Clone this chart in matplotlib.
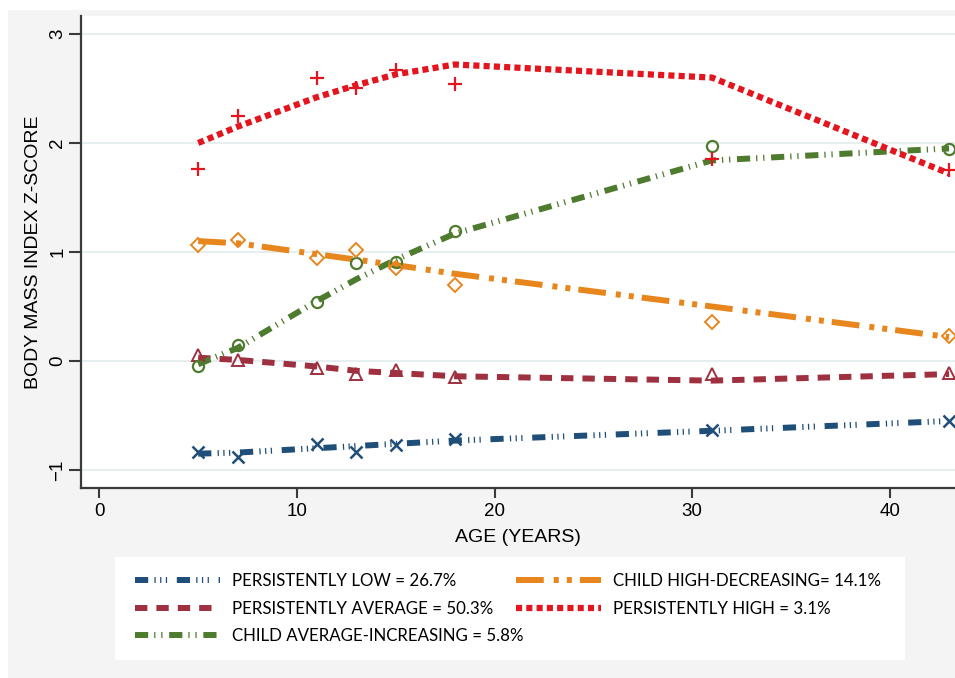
import matplotlib
matplotlib.use("Agg")
import matplotlib.pyplot as plt
from matplotlib.lines import Line2D
from matplotlib.patches import Rectangle

plt.rcParams['lines.scale_dashes'] = False
plt.rcParams['font.family'] = ['Liberation Sans', 'DejaVu Sans']

ages = [5, 7, 11, 13, 15, 18, 31, 43]

labels = ["PERSISTENTLY LOW = 26.7%",
          "PERSISTENTLY AVERAGE = 50.3%",
          "CHILD AVERAGE-INCREASING = 5.8%",
          "CHILD HIGH-DECREASING= 14.1%",
          "PERSISTENTLY HIGH = 3.1%"]

obs_low = [-0.835, -0.88, -0.76, -0.835, -0.77, -0.715, -0.63, -0.55]
fit_low = [-0.85, -0.84, -0.80, -0.78, -0.76, -0.73, -0.64, -0.55]

obs_avg = [0.055, 0.01, -0.065, -0.12, -0.085, -0.145, -0.12, -0.11]
fit_avg = [0.03, 0.01, -0.05, -0.09, -0.11, -0.14, -0.18, -0.12]

obs_inc = [-0.045, 0.15, 0.54, 0.90, 0.91, 1.19, 1.97, 1.945]
fit_inc = [-0.03, 0.12, 0.55, 0.75, 0.93, 1.17, 1.84, 1.95]

obs_dec = [1.065, 1.11, 0.945, 1.02, 0.85, 0.70, 0.36, 0.23]
fit_dec = [1.10, 1.08, 0.98, 0.93, 0.88, 0.80, 0.50, 0.22]

obs_high = [1.76, 2.25, 2.60, 2.50, 2.67, 2.54, 1.85, 1.75]
fit_high = [2.00, 2.15, 2.42, 2.53, 2.63, 2.72, 2.60, 1.72]

xticks = [0, 10, 20, 30, 40]
yticks = [-1, 0, 1, 2, 3]

W, H = 955, 678
fig = plt.figure(figsize=(W / 100, H / 100), dpi=100, facecolor='white')
fig.patches.append(Rectangle((8 / W, 0), 1 - 8 / W, 1 - 10 / H, transform=fig.transFigure,
                             facecolor='#f4f4f4', edgecolor='none', zorder=-10))
fig.patches.append(Rectangle((115 / W, 1 - 660 / H), 790 / W, 103 / H, transform=fig.transFigure,
                             facecolor='white', edgecolor='none', zorder=-5))

ax = fig.add_axes([81 / W, 1 - 488 / H, 1 - 81 / W, 472 / H])
ax.set_zorder(1)
ax.set_facecolor('white')
ax.set_xlim(-0.93, 43.3)
ax.set_ylim(-1.165, 3.165)
for s in ['top', 'right']:
    ax.spines[s].set_visible(False)
for s in ['left', 'bottom']:
    ax.spines[s].set_color('#3a3a3a')
    ax.spines[s].set_linewidth(1.6)
ax.set_xticks(xticks)
ax.set_yticks(yticks)
ax.tick_params(axis='x', direction='out', length=7, width=1.5, color='#3a3a3a',
               labelsize=13.5, pad=4)
ax.tick_params(axis='y', direction='out', length=8.5, width=1.5, color='#3a3a3a',
               labelsize=13.5, pad=2)
for t in ax.get_yticklabels():
    t.set_rotation(90)
    t.set_va('center')
ax.grid(axis='y', color='#e6eef0', linewidth=1.4)
ax.set_axisbelow(True)
ax.set_xlabel("AGE (YEARS)", fontsize=14, labelpad=6)
ax.set_ylabel("BODY MASS INDEX Z-SCORE", fontsize=14, labelpad=5)

series = [
    (fit_low, obs_low, '#1f4e79', (0, (9.5, 4.5, 0.9, 3.2, 0.9, 3.2, 0.9, 7.0)), 4.3, 'x', 9, 1.8, labels[0]),
    (fit_avg, obs_avg, '#9e3040', (0, (8.9, 6.5)), 4.3, '^', 9, 1.4, labels[1]),
    (fit_inc, obs_inc, '#4f7b2e', (0, (9.5, 4.3, 0.9, 4.2, 0.9, 4.8)), 4.3, 'o', 8, 1.6, labels[2]),
    (fit_dec, obs_dec, '#e8861e', (0, (20, 7.2, 3.6, 5.8, 3.6, 5.8)), 4.3, 'D', 7.5, 1.4, labels[3]),
    (fit_high, obs_high, '#e3161f', (0, (4.4, 3.0)), 4.5, '+', 10, 1.6, labels[4]),
]

handles = []
for fit, obs, col, ls, lw, mk, ms, mew, lab in series:
    ax.plot(ages, fit, color=col, linestyle=ls, linewidth=lw, dash_capstyle='butt',
            solid_capstyle='butt', zorder=3)
    ax.plot(ages, obs, linestyle='none', marker=mk, markersize=ms, markeredgewidth=mew,
            markeredgecolor=col, markerfacecolor='none', zorder=4, clip_on=False)
    handles.append(Line2D([], [], color=col, linestyle=ls, linewidth=lw,
                          dash_capstyle='butt', label=lab))

leg_kw = dict(frameon=False, loc='upper left', handlelength=5.0,
              handletextpad=0.75, borderpad=0, borderaxespad=0, labelspacing=0.68,
              prop={'family': 'Lato', 'size': 12.2})
leg1 = fig.legend(handles=handles[:3], bbox_to_anchor=(135 / W, 1 - 573 / H), **leg_kw)
leg2 = fig.legend(handles=handles[3:], bbox_to_anchor=(516 / W, 1 - 573 / H), **leg_kw)

fig.savefig("out.png", dpi=100, facecolor=fig.get_facecolor())
